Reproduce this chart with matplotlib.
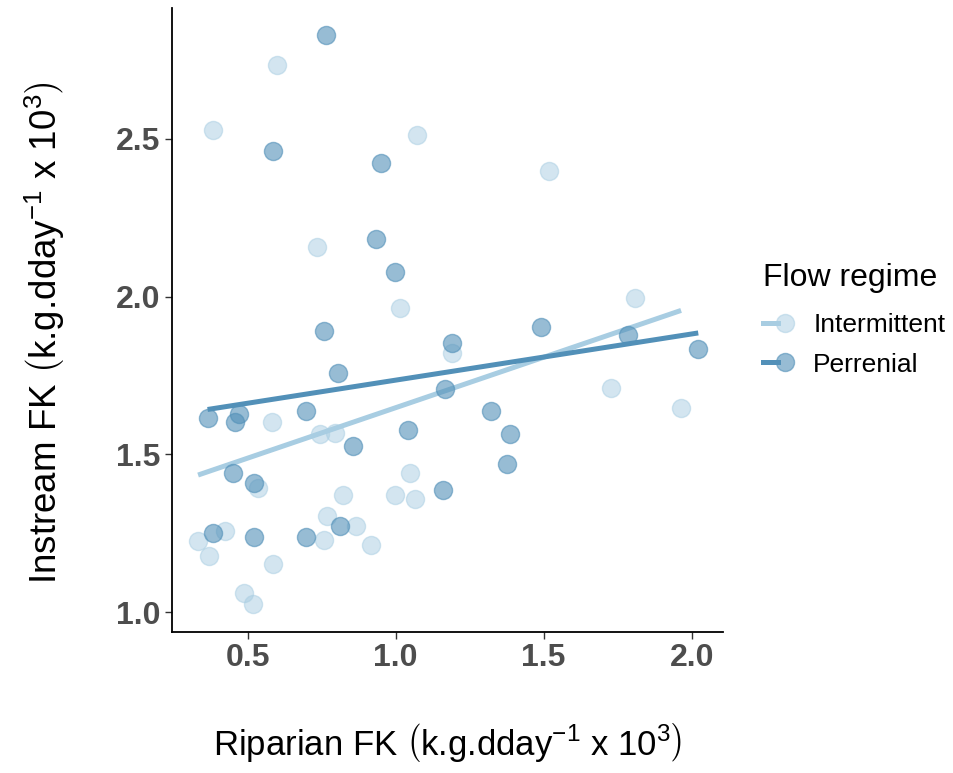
import numpy as np
import matplotlib
matplotlib.use("Agg")
import matplotlib.pyplot as plt
from matplotlib.lines import Line2D
from matplotlib.legend_handler import HandlerTuple

plt.rcParams['font.family'] = ['Liberation Sans', 'DejaVu Sans']
plt.rcParams['mathtext.fontset'] = 'custom'
plt.rcParams['mathtext.rm'] = 'Liberation Sans'
plt.rcParams['mathtext.it'] = 'Liberation Sans:italic'
plt.rcParams['mathtext.bf'] = 'Liberation Sans:bold'

# Riparian vs instream FK, by flow regime
intermittent_x = [0.598, 0.384, 1.071, 0.736, 1.015, 1.519, 1.807, 1.189, 0.581, 0.744,
                  0.795, 0.534, 1.048, 0.823, 0.998, 1.065, 0.767, 0.866, 0.423, 0.759,
                  0.333, 0.917, 0.370, 0.587, 0.488, 0.517, 1.727, 1.964]
intermittent_y = [2.735, 2.529, 2.513, 2.159, 1.963, 2.398, 1.997, 1.822, 1.603, 1.566,
                  1.569, 1.392, 1.441, 1.370, 1.370, 1.358, 1.304, 1.272, 1.257, 1.230,
                  1.225, 1.212, 1.178, 1.154, 1.060, 1.027, 1.712, 1.648]

perennial_x = [0.765, 0.587, 0.950, 0.933, 0.998, 0.759, 1.189, 0.806, 0.365, 0.472,
               0.457, 0.699, 0.857, 1.043, 0.451, 0.522, 1.159, 0.812, 0.384, 0.522,
               0.697, 1.490, 1.784, 2.022, 1.167, 1.322, 1.386, 1.375]
perennial_y = [2.829, 2.463, 2.425, 2.182, 2.077, 1.892, 1.852, 1.757, 1.616, 1.627,
               1.603, 1.637, 1.528, 1.577, 1.441, 1.410, 1.386, 1.272, 1.252, 1.238,
               1.238, 1.903, 1.878, 1.833, 1.706, 1.638, 1.566, 1.468]

groups = ["Intermittent", "Perrenial"]
line_colors = {"Intermittent": "#a8cde2", "Perrenial": "#5290b8"}
point_alpha = {"Intermittent": 0.5, "Perrenial": 0.6}
data = {"Intermittent": (intermittent_x, intermittent_y),
        "Perrenial": (perennial_x, perennial_y)}

xticks = [0.5, 1.0, 1.5, 2.0]
yticks = [1.0, 1.5, 2.0, 2.5]

fig = plt.figure(figsize=(9.54, 7.73), dpi=100)
ax = fig.add_axes([0.180, 0.182, 0.578, 0.808])

# linear fits per group, drawn over each group's x range
for g in groups:
    x, y = np.asarray(data[g][0]), np.asarray(data[g][1])
    slope, intercept = np.polyfit(x, y, 1)
    xs = np.linspace(x.min(), x.max(), 50)
    ax.plot(xs, intercept + slope * xs, color=line_colors[g], lw=3.6,
            solid_capstyle='butt', zorder=2)

for g in groups:
    x, y = data[g]
    ax.scatter(x, y, s=170, color=line_colors[g], alpha=point_alpha[g],
               edgecolors=line_colors[g], linewidths=1.0, zorder=3)

ax.set_xlim(0.244, 2.106)
ax.set_ylim(0.936, 2.916)
ax.set_xticks(xticks)
ax.set_yticks(yticks)
ax.set_xticklabels([f"{v:.1f}" for v in xticks])
ax.set_yticklabels([f"{v:.1f}" for v in yticks])
for lab in ax.get_xticklabels() + ax.get_yticklabels():
    lab.set_fontweight('bold')
    lab.set_fontsize(23)
    lab.set_color('#4d4d4d')
ax.tick_params(axis='both', length=5, width=1.0, color='#333333', pad=3)

for side in ['top', 'right']:
    ax.spines[side].set_visible(False)
for side in ['left', 'bottom']:
    ax.spines[side].set_linewidth(1.3)
    ax.spines[side].set_color('black')

unit = r'$\left(\text{k.g.dday}^{-1}\text{ x }10^{3}\right)$'
ax.set_xlabel('Riparian FK ' + unit, fontsize=25, labelpad=34)
ax.set_ylabel('Instream FK ' + unit, fontsize=26.5, labelpad=35, y=0.48)

handles = []
for g in groups:
    ln = Line2D([], [], color=line_colors[g], lw=3.6)
    mk = Line2D([], [], color=line_colors[g], marker='o', markersize=13, lw=0,
                alpha=point_alpha[g])
    handles.append((ln, mk))

leg = fig.legend(handles, groups, title="Flow regime",
                 handler_map={tuple: HandlerTuple(ndivide=None, pad=0)},
                 loc='upper left', bbox_to_anchor=(0.775, 0.69),
                 frameon=False, fontsize=19, title_fontsize=23,
                 handlelength=1.1, handletextpad=0.8, labelspacing=0.6)
leg._legend_box.align = "left"
leg._legend_box.sep = 14

fig.savefig("out.png", dpi=100)
